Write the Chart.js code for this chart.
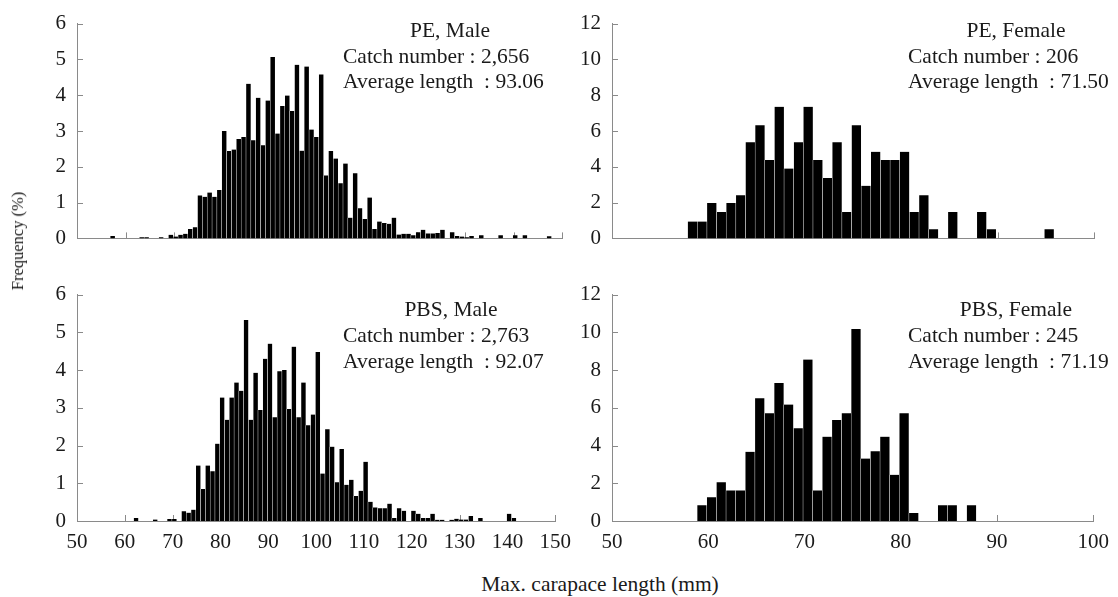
<!DOCTYPE html>
<html>
<head>
<meta charset="utf-8">
<script src="https://cdn.jsdelivr.net/npm/chart.js@4.4.0/dist/chart.umd.min.js"></script>
<style>
  body { margin: 0; background: #fff; width: 1118px; height: 597px; overflow: hidden; position: relative;
         font-family: "Liberation Serif", "Times New Roman", serif; color: #1a1a1a; }
  canvas { position: absolute; }
  .nota { position: absolute; font-size: 21.5px; line-height: 20px; white-space: pre; }
  .centro { transform: translateX(-50%); }
  .tituloX { position: absolute; font-size: 21.5px; line-height: 20px; white-space: pre; transform: translateX(-50%); }
  .tituloY { position: absolute; left: 18px; top: 241px; font-size: 16.5px; line-height: 20px; white-space: pre;
             transform: translate(-50%, -50%) rotate(-90deg); }
</style>
</head>
<body>
<canvas id="peMacho" style="left:0;top:0" width="580" height="262"></canvas>
<canvas id="peHembra" style="left:580px;top:0" width="538" height="262"></canvas>
<canvas id="pbsMacho" style="left:0;top:271px" width="580" height="300"></canvas>
<canvas id="pbsHembra" style="left:580px;top:271px" width="538" height="300"></canvas>

<div class="nota centro" style="left:450px;top:20px">PE, Male</div>
<div class="nota" style="left:343px;top:46px">Catch number : 2,656</div>
<div class="nota" style="left:343px;top:71px">Average length  : 93.06</div>

<div class="nota centro" style="left:1016px;top:20px">PE, Female</div>
<div class="nota" style="left:908px;top:46px">Catch number : 206</div>
<div class="nota" style="left:908px;top:71px">Average length  : 71.50</div>

<div class="nota centro" style="left:451px;top:299px">PBS, Male</div>
<div class="nota" style="left:343px;top:325px">Catch number : 2,763</div>
<div class="nota" style="left:343px;top:351px">Average length  : 92.07</div>

<div class="nota centro" style="left:1016px;top:299px">PBS, Female</div>
<div class="nota" style="left:908px;top:325px">Catch number : 245</div>
<div class="nota" style="left:908px;top:351px">Average length  : 71.19</div>

<div class="tituloY">Frequency (%)</div>
<div class="tituloX" style="left:600px;top:574px">Max. carapace length (mm)</div>

<script>
// Datos: clase de longitud (mm, intervalo de 1 mm) y frecuencia (%)
const peMachoLong = [57, 63, 64, 67, 69, 70, 71, 72, 73, 74, 75, 76, 77, 78, 79, 80, 81, 82, 83, 84, 85, 86, 87, 88, 89,
    90, 91, 92, 93, 94, 95, 96, 97, 98, 99, 100, 101, 102, 103, 104, 105, 106, 107, 108, 109, 110, 111, 112, 113, 114,
    115, 116, 117, 118, 119, 120, 121, 122, 123, 124, 125, 127, 128, 129, 130, 131, 133, 137, 140, 142, 147];
const peMachoFrec = [0.07, 0.03, 0.03, 0.03, 0.1, 0.05, 0.1, 0.13, 0.26, 0.31, 1.2, 1.16, 1.28, 1.16, 1.35, 3.0, 2.44,
    2.48, 2.78, 2.83, 4.32, 2.74, 3.93, 2.6, 3.85, 5.07, 2.93, 3.7, 3.99, 3.56, 4.85, 2.45, 4.8, 3.04, 2.83, 4.58, 1.76,
    2.44, 2.23, 1.54, 2.09, 0.58, 1.82, 0.84, 0.54, 1.14, 0.26, 0.47, 0.43, 0.41, 0.58, 0.11, 0.13, 0.13, 0.09, 0.17,
    0.24, 0.14, 0.14, 0.15, 0.24, 0.17, 0.07, 0.05, 0.03, 0.07, 0.09, 0.09, 0.09, 0.09, 0.06];

const pbsMachoLong = [62, 66, 69, 70, 72, 73, 74, 75, 76, 77, 78, 79, 80, 81, 82, 83, 84, 85, 86, 87, 88, 89, 90, 91, 92,
    93, 94, 95, 96, 97, 98, 99, 100, 101, 102, 103, 104, 105, 106, 107, 108, 109, 110, 111, 112, 113, 114, 115, 116,
    117, 118, 120, 121, 122, 123, 124, 125, 126, 128, 129, 130, 131, 132, 134, 140, 141];
const pbsMachoFrec = [0.08, 0.04, 0.05, 0.05, 0.26, 0.22, 0.3, 1.47, 0.85, 1.47, 1.32, 2.05, 3.27, 2.68, 3.27, 3.67,
    3.45, 5.33, 2.68, 3.93, 2.94, 4.3, 4.7, 2.75, 3.97, 4.0, 2.97, 4.62, 2.75, 3.67, 2.54, 2.82, 4.48, 1.26, 2.43, 1.97,
    1.03, 1.91, 0.96, 1.09, 0.66, 0.8, 1.57, 0.51, 0.36, 0.34, 0.34, 0.46, 0.08, 0.34, 0.27, 0.27, 0.19, 0.08, 0.08,
    0.19, 0.03, 0.03, 0.03, 0.06, 0.04, 0.04, 0.13, 0.08, 0.19, 0.08];

const peHembraLong = [58, 59, 60, 61, 62, 63, 64, 65, 66, 67, 68, 69, 70, 71, 72, 73, 74, 75, 76, 77, 78, 79, 80, 81,
    82, 83, 85, 88, 89, 95];
const peHembraFrec = [0.94, 0.94, 1.98, 1.47, 1.98, 2.41, 5.37, 6.32, 4.38, 7.35, 3.9, 5.37, 7.35, 4.38, 3.38, 5.37,
    1.47, 6.32, 2.94, 4.84, 4.38, 4.38, 4.84, 1.47, 2.41, 0.51, 1.47, 1.47, 0.51, 0.51];

const pbsHembraLong = [59, 60, 61, 62, 63, 64, 65, 66, 67, 68, 69, 70, 71, 72, 73, 74, 75, 76, 77, 78, 79, 80, 81, 84,
    85, 87];
const pbsHembraFrec = [0.84, 1.26, 2.05, 1.62, 1.62, 3.67, 6.51, 5.71, 7.31, 6.17, 4.91, 8.56, 1.62, 4.47, 5.35, 5.71,
    10.18, 3.31, 3.7, 4.47, 2.45, 5.71, 0.43, 0.84, 0.84, 0.84];

// Ejes
const machoEjeX = [50, 150, 10];   // min, max, paso
const hembraEjeX = [50, 100, 10];
const machoEjeY = [0, 6, 1];
const hembraEjeY = [0, 12, 2];

const centroClase = 0.35;   // posicion de la barra dentro de su clase
const colorEje = "#8a8a8a";
const colorTexto = "#1a1a1a";
const fuenteTicks = { family: "Liberation Serif", size: 21 };

// marcas de los ejes hacia dentro
const marcasInternas = {
    id: "marcasInternas",
    beforeDatasetsDraw(chart) {
        const ctx = chart.ctx;
        const area = chart.chartArea;
        const ex = chart.scales.x;
        const ey = chart.scales.y;
        ctx.save();
        ctx.strokeStyle = colorEje;
        ctx.lineWidth = 1;
        ctx.beginPath();
        ex.ticks.forEach((t) => {
            const px = Math.round(ex.getPixelForValue(t.value)) + 0.5;
            ctx.moveTo(px, area.bottom);
            ctx.lineTo(px, area.bottom - 6);
        });
        ey.ticks.forEach((t) => {
            const py = Math.round(ey.getPixelForValue(t.value)) + 0.5;
            ctx.moveTo(area.left, py);
            ctx.lineTo(area.left + 6, py);
        });
        ctx.stroke();
        ctx.restore();
    }
};

function crearPanel(id, longitudes, frecuencias, ejeX, ejeY, conEtiquetasX, anchoY, altoX, padDer) {
    let puntos = longitudes.map((l, i) => ({ x: l + centroClase, y: frecuencias[i] }));
    let ctx = document.getElementById(id).getContext("2d");
    return new Chart(ctx, {
        type: "bar",
        data: {
            datasets: [{
                data: puntos,
                backgroundColor: "#000",
                borderColor: "rgba(255,255,255,0.85)",
                borderWidth: { left: 0.5, right: 0.5, top: 0, bottom: 0 },
                barPercentage: 1,
                categoryPercentage: 1
            }]
        },
        options: {
            responsive: false,
            animation: false,
            devicePixelRatio: 1,
            layout: { padding: { top: 15, right: padDer, left: 0, bottom: 0 } },
            plugins: { legend: { display: false }, tooltip: { enabled: false } },
            scales: {
                x: {
                    type: "linear",
                    min: ejeX[0], max: ejeX[1],
                    offset: false,
                    grid: { display: false, drawTicks: false, offset: false },
                    border: { display: true, color: colorEje, width: 1 },
                    ticks: { display: conEtiquetasX, stepSize: ejeX[2], padding: 9, font: fuenteTicks,
                             color: colorTexto, maxRotation: 0, autoSkip: false },
                    afterFit: (s) => { s.height = altoX; }
                },
                y: {
                    min: ejeY[0], max: ejeY[1],
                    grid: { display: false, drawTicks: false },
                    border: { display: true, color: colorEje, width: 1 },
                    ticks: { stepSize: ejeY[2], padding: 11, font: fuenteTicks, color: colorTexto },
                    afterFit: (s) => { s.width = anchoY; }
                }
            }
        },
        plugins: [marcasInternas]
    });
}

crearPanel("peMacho", peMachoLong, peMachoFrec, machoEjeX, machoEjeY, false, 77, 13, 18);
crearPanel("peHembra", peHembraLong, peHembraFrec, hembraEjeX, hembraEjeY, false, 32, 13, 24);
crearPanel("pbsMacho", pbsMachoLong, pbsMachoFrec, machoEjeX, machoEjeY, true, 77, 50, 18);
crearPanel("pbsHembra", pbsHembraLong, pbsHembraFrec, hembraEjeX, hembraEjeY, true, 32, 50, 24);
</script>
</body>
</html>
